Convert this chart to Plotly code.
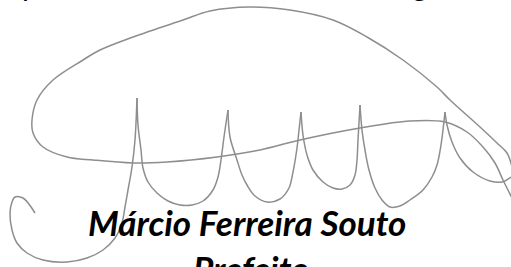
import plotly.graph_objects as go

# Signature strokes (pixel coordinates of the 511x267 picture, y downward)
stroke_loop_x = [512, 507, 497, 480, 450, 437, 403, 367, 333, 290, 250, 210, 183, 133, 100, 83, 53, 37, 32, 33, 43, 67, 93, 133, 167, 217, 260, 300, 360, 410, 445, 467, 483, 495, 503, 512]
stroke_loop_y = [167, 153, 143, 127, 100, 87, 60, 37, 20, 10, 7, 11, 20, 37, 50, 60, 80, 100, 120, 133, 147, 157, 160, 163, 162, 157, 150, 140, 128, 121, 122, 132, 147, 163, 180, 198]

hook_x = [35, 23, 15, 12, 10, 12, 17, 27, 43, 67, 87, 103, 115, 122, 125, 128, 132, 135, 137]
hook_y = [213, 198, 197, 202, 213, 230, 243, 253, 260, 262, 258, 250, 238, 223, 207, 190, 167, 140, 98]

u1_x = [137, 138, 141, 143, 148, 157, 168, 180, 192, 203, 213, 218, 221, 224, 228]
u1_y = [98, 125, 150, 168, 182, 193, 201, 205, 205, 201, 190, 177, 160, 137, 110]

u2_x = [228, 230, 237, 242, 247, 255, 267, 280, 289, 293, 297, 299, 301]
u2_y = [110, 137, 160, 175, 185, 196, 202, 199, 188, 172, 148, 130, 112]

u3_x = [301, 303, 307, 313, 323, 333, 342, 350, 355, 357, 358, 360]
u3_y = [112, 135, 155, 170, 182, 188, 189, 185, 175, 160, 140, 105]

u4_x = [360, 362, 365, 369, 375, 382, 390, 400, 410, 423, 432, 437, 441, 445]
u4_y = [105, 130, 150, 170, 188, 200, 207, 206, 200, 190, 177, 165, 145, 112]

leg5_x = [445, 447, 452, 460, 473, 490, 502, 511]
leg5_y = [112, 125, 142, 158, 172, 181, 182, 177]

strokes = [
    (stroke_loop_x, stroke_loop_y),
    (hook_x, hook_y),
    (u1_x, u1_y),
    (u2_x, u2_y),
    (u3_x, u3_y),
    (u4_x, u4_y),
    (leg5_x, leg5_y),
]

name_text = "Márcio Ferreira Souto"
title_text = "Prefeito"
top_glyphs = ["p", ",", "g"]
top_glyph_x = [30, 285, 420]

fig = go.Figure()
for sx, sy in strokes:
    fig.add_trace(go.Scatter(
        x=sx, y=sy, mode="lines",
        line=dict(color="#8e8e8e", width=1.5, shape="spline", smoothing=1.0),
        hoverinfo="skip", showlegend=False,
    ))

fig.add_annotation(x=247, y=222, xref="x", yref="y", text=name_text,
                   showarrow=False, xanchor="center", yanchor="middle",
                   font=dict(family="Lato", size=35, color="#000000",
                             weight="bold", style="italic"))
fig.add_annotation(x=251, y=266, xref="x", yref="y", text=title_text,
                   showarrow=False, xanchor="center", yanchor="bottom",
                   yshift=-25,
                   font=dict(family="Lato", size=35, color="#000000",
                             weight="bold", style="italic"))
for g, gx in zip(top_glyphs, top_glyph_x):
    fig.add_annotation(x=gx, y=0, xref="x", yref="y", text=g,
                       showarrow=False, xanchor="center", yanchor="bottom",
                       yshift=-4,
                       font=dict(family="Lato", size=30, color="#000000"))

fig.update_layout(
    width=511, height=267,
    margin=dict(l=0, r=0, t=0, b=0),
    paper_bgcolor="white", plot_bgcolor="white",
    xaxis=dict(range=[0, 511], visible=False, fixedrange=True),
    yaxis=dict(range=[267, 0], visible=False, fixedrange=True),
)
fig.write_html("out.html",
               config={"displayModeBar": False, "staticPlot": True},
               post_script="document.body.style.margin='0';document.body.style.overflow='hidden';")
